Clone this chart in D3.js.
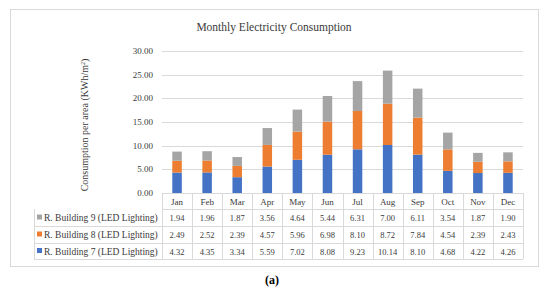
<!DOCTYPE html>
<html>
<head>
<meta charset="utf-8">
<script src="https://cdn.jsdelivr.net/npm/d3@7"></script>
<style>
  body { margin: 0; background: #fff; }
  svg text { font-family: "Liberation Serif", "DejaVu Serif", serif; fill: #3a3a3a; }
</style>
</head>
<body>
<svg id="svg" width="550" height="293"></svg>
<script>
// data
var months = ["Jan","Feb","Mar","Apr","May","Jun","Jul","Aug","Sep","Oct","Nov","Dec"];
var building7 = [4.32,4.35,3.34,5.59,7.02,8.08,9.23,10.14,8.10,4.68,4.22,4.26];
var building8 = [2.49,2.52,2.39,4.57,5.96,6.98,8.10,8.72,7.84,4.54,2.39,2.43];
var building9 = [1.94,1.96,1.87,3.56,4.64,5.44,6.31,7.00,6.11,3.54,1.87,1.90];
var seriesNames = ["R. Building 7 (LED Lighting)","R. Building 8 (LED Lighting)","R. Building 9 (LED Lighting)"];
var yTicks = [0,5,10,15,20,25,30];

(function() {
var colors = ["#4472C4","#ED7D31","#A5A5A5"];
var svg = d3.select("#svg");

// outer frame
svg.append("rect").attr("x",10.5).attr("y",9.5).attr("width",528).attr("height",257)
  .attr("fill","none").attr("stroke","#d9d9d9");

var pLeft = 162, pRight = 523, pTop = 51, pBottom = 193;
var x = d3.scaleBand().domain(months).range([pLeft,pRight]);
var y = d3.scaleLinear().domain([0,30]).range([pBottom,pTop]);

svg.append("text").attr("x",274).attr("y",31).attr("text-anchor","middle")
  .style("font-size","11.5px").text("Monthly Electricity Consumption");

// gridlines
svg.append("g").selectAll("line").data(yTicks).join("line")
  .attr("x1",pLeft).attr("x2",pRight)
  .attr("y1",d => Math.round(y(d))+0.5).attr("y2",d => Math.round(y(d))+0.5)
  .attr("stroke","#d9d9d9");

svg.append("g").selectAll("text").data(yTicks).join("text")
  .attr("x",153).attr("y",d => y(d)+3)
  .attr("text-anchor","end").style("font-size","9px")
  .text(d => d.toFixed(2));

svg.append("text")
  .attr("transform","translate(88,125) rotate(-90)")
  .attr("text-anchor","middle").style("font-size","10px")
  .html("Consumption per area (KWh/m<tspan dy='-3' style='font-size:6px'>2</tspan><tspan dy='3'>)</tspan>");

// stacked bars
var rows = months.map((m,i) => ({month:m, s0:building7[i], s1:building8[i], s2:building9[i]}));
var stacked = d3.stack().keys(["s0","s1","s2"])(rows);
var bw = 9.5;
svg.append("g").selectAll("g").data(stacked).join("g")
  .attr("fill",(d,i) => colors[i])
  .selectAll("rect").data(d => d).join("rect")
  .attr("x",d => x(d.data.month)+x.bandwidth()/2-bw/2)
  .attr("width",bw)
  .attr("y",d => y(d[1]))
  .attr("height",d => y(d[0])-y(d[1]));

// data table
var tableLeft = 34;
var rowEdges = [193,209,226,243,259];
var grid = svg.append("g").attr("stroke","#d9d9d9").attr("fill","none");
grid.append("line").attr("x1",pLeft).attr("x2",pRight).attr("y1",rowEdges[1]+0.5).attr("y2",rowEdges[1]+0.5);
[2,3,4].forEach(k => grid.append("line").attr("x1",tableLeft).attr("x2",pRight)
  .attr("y1",rowEdges[k]+0.5).attr("y2",rowEdges[k]+0.5));
grid.append("line").attr("x1",tableLeft+0.5).attr("x2",tableLeft+0.5).attr("y1",rowEdges[1]).attr("y2",rowEdges[4]);
months.forEach(m => grid.append("line").attr("x1",Math.round(x(m))+0.5).attr("x2",Math.round(x(m))+0.5)
  .attr("y1",rowEdges[0]).attr("y2",rowEdges[4]));
grid.append("line").attr("x1",pRight+0.5).attr("x2",pRight+0.5).attr("y1",rowEdges[0]).attr("y2",rowEdges[4]);

svg.append("g").selectAll("text").data(months).join("text")
  .attr("x",m => x(m)+x.bandwidth()/2).attr("y",(rowEdges[0]+rowEdges[1])/2+3.5)
  .attr("text-anchor","middle").style("font-size","9px").text(m => m);

var tableSeries = [
  {name:seriesNames[2], values:building9, color:colors[2]},
  {name:seriesNames[1], values:building8, color:colors[1]},
  {name:seriesNames[0], values:building7, color:colors[0]}
];
tableSeries.forEach((s,k) => {
  var cy = (rowEdges[k+1]+rowEdges[k+2])/2;
  svg.append("rect").attr("x",37).attr("y",cy-3).attr("width",5).attr("height",5).attr("fill",s.color);
  svg.append("text").attr("x",44).attr("y",cy+3.5).style("font-size","9.5px").text(s.name);
  svg.append("g").selectAll("text").data(s.values).join("text")
    .attr("x",(d,i) => x(months[i])+x.bandwidth()/2).attr("y",cy+3.5)
    .attr("text-anchor","middle").style("font-size","8.5px")
    .text(d => d.toFixed(2));
});

svg.append("text").attr("x",272).attr("y",284).attr("text-anchor","middle")
  .style("font-size","12px").style("font-weight","bold").style("fill","#000")
  .text("(a)");
})();
</script>
</body>
</html>
